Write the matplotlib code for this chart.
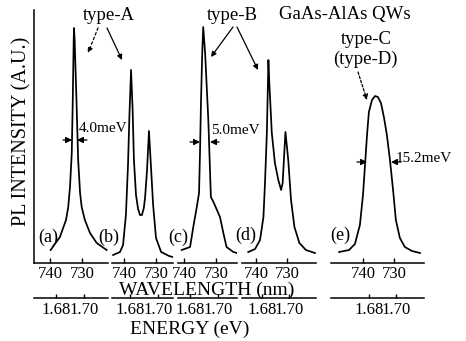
import numpy as np
import matplotlib
matplotlib.use('Agg')
import matplotlib.pyplot as plt

plt.rcParams['font.family'] = ['Liberation Serif', 'DejaVu Serif']

# ---------------- data ----------------
panel_names = ['(a)', '(b)', '(c)', '(d)', '(e)']

wl_a = [739.8, 736.9, 735.0, 734.3, 733.75, 733.2, 732.9, 732.6, 732.5, 732.3,
        731.7, 731.2, 730.6, 730.1, 729.1, 727.5, 725.4, 722.3]
int_a = [13, 26, 43, 56, 76, 110, 160, 223, 235, 223,
         160, 103, 70, 56, 43, 30, 20, 13]

wl_b = [743.4, 741.25, 740.3, 739.4, 738.75, 738.3, 737.8, 737.3, 736.9, 736.25,
        735.6, 735.0, 734.4, 733.8, 733.4, 732.8, 732.2, 731.6, 730.9, 730.0,
        728.4, 725.9, 724.8]
int_b = [8, 11, 18, 48, 98, 148, 193, 153, 103, 68,
         54, 48, 48, 55, 66, 93, 132, 98, 58, 25,
         11, 7, 6]

wl_c = [740.7, 738.1, 737.1, 736.0, 735.3, 735.0, 734.7, 734.3, 734.0, 733.4,
        732.4, 731.6, 730.8, 728.75, 727.7, 726.7, 724.6, 723.5]
int_c = [13, 16, 36, 56, 70, 110, 160, 210, 236, 210,
         143, 66, 61, 46, 30, 16, 11, 10]

wl_d = [742.5, 740.3, 738.7, 737.6, 737.1, 736.5, 736.2, 736.0, 735.7, 734.9,
        733.9, 732.8, 731.9, 731.4, 731.0, 730.5, 729.6, 728.7, 727.6, 726.0,
        723.9, 721.0]
int_d = [11, 14, 23, 46, 80, 130, 173, 203, 180, 130,
         100, 83, 73, 80, 103, 131, 103, 63, 36, 20,
         13, 10]

wl_e = [747.7, 744.5, 742.6, 741.0, 740.0, 739.35, 738.7, 738.1, 737.1, 736.1,
        735.2, 734.2, 733.2, 732.3, 731.3, 730.3, 729.4, 728.1, 726.5, 724.2,
        721.6]
int_e = [11, 13, 19, 38, 68, 98, 128, 151, 163, 167,
         166, 160, 145, 128, 103, 73, 43, 25, 16, 12,
         10]

wl_ticks = [740, 730]
wl_ticklabels = ['740', '730']
en_ticks = [1.68, 1.70]
en_ticklabels = ['1.68', '1.70']

# ---------------- layout (pixels) ----------------
W, H = 466, 341
fig = plt.figure(figsize=(W / 100, H / 100), dpi=100)

y_axis = 263      # wavelength axis line
y_top = 10
y_en = 298        # energy axis line
# (left px, right px, px of 740 tick, px of 730 tick)
panels = [(34, 108, 50, 82),
          (112, 173, 124, 156),
          (178, 237, 184, 216),
          (242, 316, 256, 287),
          (331, 424, 363, 394)]
series = [(wl_a, int_a), (wl_b, int_b), (wl_c, int_c), (wl_d, int_d), (wl_e, int_e)]
label_pos = [(48, 237), (109, 237), (178, 237), (246, 235), (340, 235)]


def f(x):
    x = np.asarray(x, dtype=float)
    with np.errstate(divide='ignore', invalid='ignore'):
        return 1239.84 / x


for i, ((xl, xr, x740, x730), (wl, it)) in enumerate(zip(panels, series)):
    s = (x730 - x740) / 10.0
    lam_l = 740 + (x740 - xl) / s
    lam_r = 740 - (xr - x740) / s
    ax = fig.add_axes([xl / W, 1 - y_axis / H, (xr - xl) / W, (y_axis - y_top) / H])
    ax.patch.set_alpha(0)
    ax.plot(wl, it, color='black', lw=1.25)
    ax.set_xlim(lam_l, lam_r)
    ax.set_ylim(0, y_axis - y_top)
    for sp in ['top', 'right']:
        ax.spines[sp].set_visible(False)
    if i != 0:
        ax.spines['left'].set_visible(False)
    ax.spines['left'].set_linewidth(1.1)
    ax.spines['bottom'].set_linewidth(1.1)
    ax.set_yticks([])
    ax.set_xticks(wl_ticks)
    ax.set_xticklabels(wl_ticklabels)
    ax.tick_params(axis='x', direction='in', length=3.5, width=1, labelsize=12, pad=2)
    sec = ax.secondary_xaxis(-(y_en - y_axis) / (y_axis - y_top), functions=(f, f))
    sec.set_xticks(en_ticks)
    sec.set_xticklabels(en_ticklabels)
    sec.tick_params(axis='x', direction='in', length=3, width=1, labelsize=12, pad=3)
    sec.spines['bottom'].set_linewidth(1.1)
    fig.text(label_pos[i][0] / W, 1 - label_pos[i][1] / H, panel_names[i],
             ha='center', va='center', fontsize=13)


def T(x, y, s, **kw):
    fig.text(x / W, 1 - y / H, s, **kw)


T(207, 290, 'WAVELENGTH (nm)', ha='center', va='center', fontsize=14)
T(190, 329, 'ENERGY (eV)', ha='center', va='center', fontsize=14)
T(22, 131, 'PL INTENSITY (A.U.)', ha='center', va='center', fontsize=14.5, rotation=90)

T(109, 15, 'type-A', ha='center', va='center', fontsize=13.5)
T(232, 15, 'type-B', ha='center', va='center', fontsize=13.5)
T(345, 15, 'GaAs-AlAs QWs', ha='center', va='center', fontsize=13.5)
T(366, 39, 'type-C', ha='center', va='center', fontsize=13.5)
T(365, 59, '(type-D)', ha='center', va='center', fontsize=13.5)

T(79, 128, '4.0meV', ha='left', va='center', fontsize=11)
T(211, 130, '5.0meV', ha='left', va='center', fontsize=11)
T(396, 158, '15.2meV', ha='left', va='center', fontsize=11)


def arrow(x0, y0, x1, y1, ls='-', hw=0.25, hl=0.5):
    fig.add_artist(matplotlib.patches.FancyArrowPatch(
        (x0, H - y0), (x1, H - y1), transform=None,
        arrowstyle=f'-|>,head_width={hw * 6},head_length={hl * 6}',
        color='black', lw=0.9, linestyle=ls, shrinkA=0, shrinkB=0,
        mutation_scale=1))


# pointer arrows
arrow(98, 28, 88, 53, ls=(0, (2, 2)))
arrow(107, 28, 122, 60)
arrow(233, 27, 211, 57)
arrow(237, 27, 258, 70)
arrow(358, 72, 367, 100, ls=(0, (2, 1.5)))

# FWHM markers
arrow(63, 140, 72, 140, hw=0.3, hl=0.6)
arrow(87, 140, 77, 140, hw=0.3, hl=0.6)
arrow(190, 142, 200, 142, hw=0.3, hl=0.6)
arrow(219, 142, 210, 142, hw=0.3, hl=0.6)
arrow(357, 162, 367, 162, hw=0.3, hl=0.6)
arrow(401, 162, 391, 162, hw=0.3, hl=0.6)

fig.savefig('out.png', dpi=100)
